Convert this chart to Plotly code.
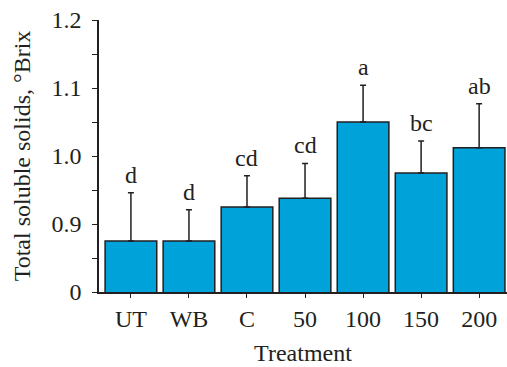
import plotly.graph_objects as go

treatments = ["UT", "WB", "C", "50", "100", "150", "200"]
means = [0.875, 0.875, 0.925, 0.938, 1.050, 0.975, 1.012]
errors = [0.071, 0.046, 0.046, 0.051, 0.054, 0.047, 0.065]
letters = ["d", "d", "cd", "cd", "a", "bc", "ab"]
ytick_vals = [0.8, 0.9, 1.0, 1.1, 1.2]
ytick_text = ["0", "0.9", "1.0", "1.1", "1.2"]

dark = "#231f20"
font_family = "Liberation Serif"
fs = 24

fig = go.Figure()
fig.add_trace(go.Bar(
    x=treatments, y=means,
    marker=dict(color="#00a3d9", line=dict(color=dark, width=1.5)),
    error_y=dict(type="data", array=errors, arrayminus=[0]*len(errors),
                 symmetric=False, color=dark, thickness=1.5, width=3),
    width=0.89,
))

for i, (m, e, l) in enumerate(zip(means, errors, letters)):
    fig.add_annotation(x=i, y=m + e, text=l, showarrow=False,
                       xref="x", yref="y",
                       yanchor="bottom", yshift=3,
                       font=dict(family=font_family, size=fs, color=dark))

fig.update_layout(
    width=507, height=367,
    margin=dict(l=99, r=0, t=20, b=75),
    paper_bgcolor="white", plot_bgcolor="white",
    showlegend=False,
    font=dict(family=font_family, size=fs, color=dark),
    xaxis=dict(
        type="category",
        range=[-0.55, 6.48],
        showline=True, linecolor=dark, linewidth=1.5,
        ticks="outside", ticklen=4, tickcolor=dark, tickwidth=1.2,
        tickfont=dict(family=font_family, size=fs, color=dark),
        title=dict(text="Treatment", font=dict(family=font_family, size=fs, color=dark), standoff=14),
        showgrid=False, zeroline=False,
    ),
    yaxis=dict(
        range=[0.8, 1.2],
        tickvals=ytick_vals, ticktext=ytick_text,
        showline=True, linecolor=dark, linewidth=1.5,
        ticks="outside", ticklen=5, tickcolor=dark, tickwidth=1.2,
        minor=dict(dtick=0.05, tick0=0.8, ticks="outside", ticklen=5, tickcolor=dark, tickwidth=1.2),
        ticklabelstandoff=6,
        tickfont=dict(family=font_family, size=fs, color=dark),
        title=dict(text="Total soluble solids, °Brix", font=dict(family=font_family, size=fs, color=dark), standoff=14),
        showgrid=False, zeroline=False,
    ),
)

fig.write_html("out.html")
